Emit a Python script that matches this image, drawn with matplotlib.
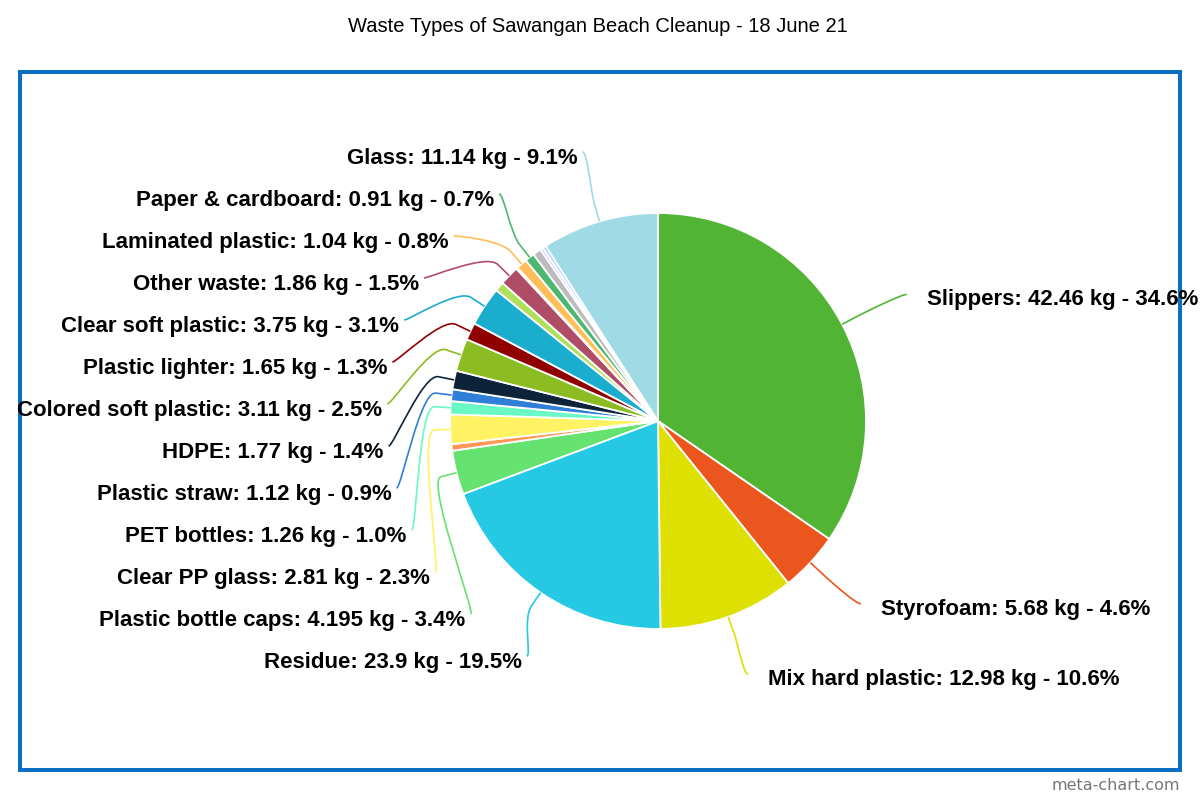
import matplotlib.pyplot as plt
import numpy as np
from matplotlib.path import Path
from matplotlib.patches import PathPatch, Rectangle

# slices in drawing order, clockwise from 12 o'clock ('' = slice without a label)
categories = [
    "Slippers", "Styrofoam", "Mix hard plastic", "Residue", "Plastic bottle caps", "",
    "Clear PP glass", "PET bottles", "Plastic straw", "HDPE", "Colored soft plastic",
    "Plastic lighter", "Clear soft plastic", "", "Other waste", "", "Laminated plastic",
    "Paper & cardboard", "", "", "", "Glass",
]
weights_kg = [
    42.46, 5.68, 12.98, 23.9, 4.195, 0.62,
    2.81, 1.26, 1.12, 1.77, 3.11,
    1.65, 3.75, 0.9, 1.86, 0.15, 1.04,
    0.91, 0.8, 0.28, 0.315, 11.14,
]
colors = [
    "#52b435", "#eb561e", "#dde000", "#25c9e3", "#66e270", "#ff9655",
    "#fff263", "#6af9c4", "#2f7ed8", "#0d233a", "#8bbc21",
    "#910000", "#1aadce", "#b0e05a", "#b04d66", "#4572a7", "#ffbe57",
    "#4cb86f", "#bcbcbc", "#ccccff", "#aaccff", "#9fdae5",
]
title = "Waste Types of Sawangan Beach Cleanup - 18 June 21"

W, H = 1200, 800
def py(y):  # pixel-from-top -> data y
    return H - y

fig = plt.figure(figsize=(12, 8), dpi=100)
ax = fig.add_axes([0, 0, 1, 1])

cx, cy, R = 658, py(421), 208
wedges, _ = ax.pie(weights_kg, colors=colors, startangle=90, counterclock=False,
                   center=(cx, cy), radius=R,
                   wedgeprops=dict(edgecolor="white", linewidth=1.3))
ax.set_xlim(0, W)
ax.set_ylim(0, H)
ax.set_aspect("equal")
ax.set_axis_off()

total = sum(weights_kg)
label_font = dict(family="Liberation Sans", fontsize=16, fontweight="bold", color="black")

# label layout
items = []
for w, name, v, c in zip(wedges, categories, weights_kg, colors):
    if not name:
        continue
    mid = np.deg2rad((w.theta1 + w.theta2) / 2)
    txt = f"{name}: {v:g} kg - {100 * v / total:.1f}%"
    items.append(dict(mid=mid, txt=txt, color=c))

left = [it for it in items if np.cos(it["mid"]) < 0]
right = [it for it in items if np.cos(it["mid"]) >= 0]

# right side: natural position on a circle around the pie
for it in right:
    rl = 270
    it["y"] = cy + rl * np.sin(it["mid"]) - 3
    dy = it["y"] - cy
    xc = cx + np.sqrt(max(rl ** 2 - dy ** 2, 0))
    it["tx"] = xc + 28
    it["anchor"] = (xc + 8, it["y"] + 4)

# left side: packed column, top to bottom
left.sort(key=lambda it: -np.sin(it["mid"]))
for i, it in enumerate(left):
    rl = 276
    it["y"] = py(157 + 42 * i)
    dy = it["y"] - cy
    xc = cx - np.sqrt(max(rl ** 2 - dy ** 2, 0))
    it["tx"] = xc
    it["anchor"] = (xc + 5, it["y"] + 5)

for side, group in (("left", left), ("right", right)):
    for it in group:
        d = np.array([np.cos(it["mid"]), np.sin(it["mid"])])
        touch = np.array([cx, cy]) + R * d
        brk = np.array([cx, cy]) + (R + 16) * d
        ax_, ay_ = it["anchor"]
        c1 = (ax_ + (5 if side == "left" else -5), ay_)
        c2 = 2 * brk - touch
        verts = [(ax_, ay_), c1, tuple(c2), tuple(brk), tuple(touch)]
        codes = [Path.MOVETO, Path.CURVE4, Path.CURVE4, Path.CURVE4, Path.LINETO]
        ax.add_patch(PathPatch(Path(verts, codes), fill=False,
                               edgecolor=it["color"], linewidth=1.2))
        ax.text(it["tx"], it["y"] - 7, it["txt"],
                ha="right" if side == "left" else "left", va="baseline", **label_font)

# frame, title, credit
ax.add_patch(Rectangle((20, py(770)), 1160, 698, fill=False,
                       edgecolor="#0a6fc2", linewidth=2.9))
ax.text(598, py(32), title, ha="center", va="baseline",
        family="Liberation Sans", fontsize=14.5, color="black")
ax.text(1180, py(785), "meta-chart.com", ha="right", va="center",
        family="DejaVu Sans", fontsize=11.5, color="#777777")

fig.savefig("out.png", dpi=100, facecolor="white")
